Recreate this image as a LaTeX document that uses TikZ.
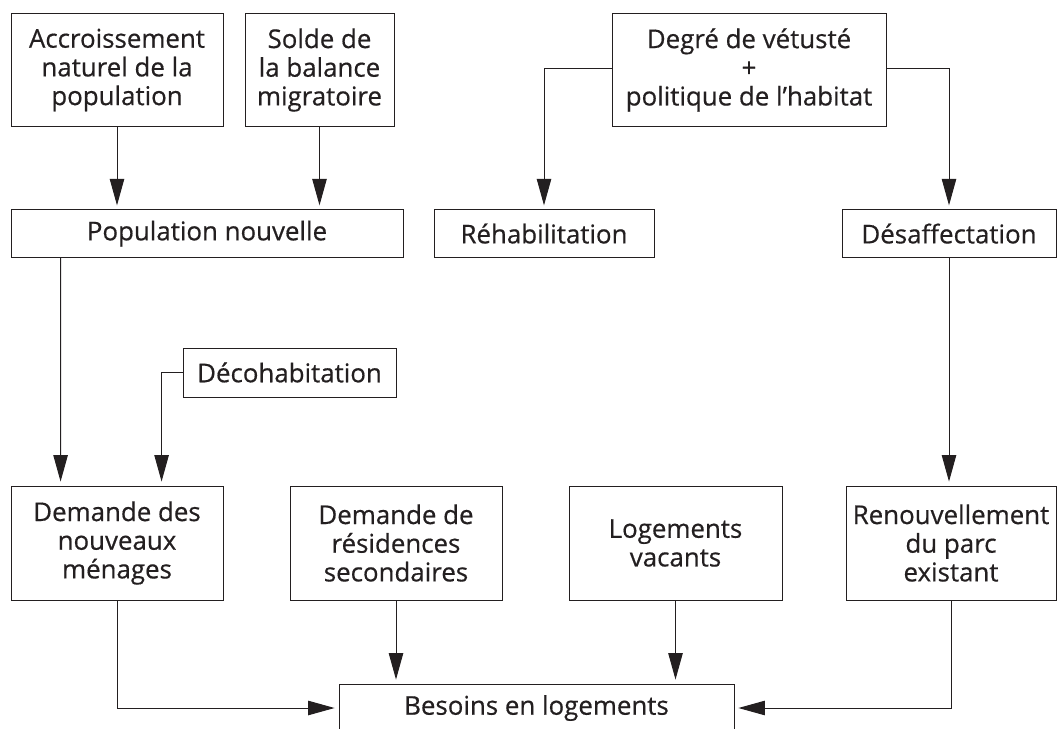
\documentclass[tikz,border=0pt]{standalone}
\usepackage{fontspec}
\setmainfont{Open Sans}
\newfontfamily\boxfont{Open Sans}[FakeBold=0.5]
\usetikzlibrary{arrows.meta}
\definecolor{ink}{RGB}{35,31,32}

\begin{document}
\begin{tikzpicture}
        \tikzstyle{box}=[draw=ink, line width=0.6pt, text=ink, align=center, inner sep=0pt, font=\boxfont\fontsize{18.4}{20.4}\selectfont]
        \tikzstyle{arr}=[draw=ink, line width=0.7pt, -{Triangle[length=6.6mm,width=3.6mm]}, shorten >=1mm]

        \useasboundingbox (0,0) rectangle (26.475,-18.225);

        \node[box, minimum width=5.3cm, minimum height=2.825cm]   (acc)    at (2.925,-1.75)  {Accroissement\\naturel de la\\population};
        \node[box, minimum width=3.725cm, minimum height=2.825cm] (solde)  at (7.9875,-1.75) {Solde de\\la balance\\migratoire};
        \node[box, minimum width=6.85cm, minimum height=2.825cm]  (degre)  at (18.725,-1.75) {Degré de vétusté\\+\\politique de l’habitat};

        \node[box, minimum width=9.8cm, minimum height=1.19cm]   (popnouv) at (5.175,-5.84)  {Population nouvelle};
        \node[box, minimum width=5.5cm, minimum height=1.19cm]   (rehab)   at (13.6,-5.84)   {Réhabilitation};
        \node[box, minimum width=5.35cm, minimum height=1.19cm]  (desaff)  at (23.725,-5.84)  {Désaffectation};

        \node[box, minimum width=5.325cm, minimum height=1.225cm] (decohab) at (7.2375,-9.3125) {Décohabitation};

        \node[box, minimum width=5.3cm, minimum height=2.85cm]   (menages) at (2.925,-13.575)   {Demande des\\nouveaux\\ménages};
        \node[box, minimum width=5.3cm, minimum height=2.85cm]   (resid)   at (9.9,-13.575)     {Demande de\\résidences\\secondaires};
        \node[box, minimum width=5.325cm, minimum height=2.85cm] (vacants) at (16.8875,-13.575) {Logements\\vacants};
        \node[box, minimum width=5.25cm, minimum height=2.85cm]  (renouv)  at (23.775,-13.575)  {Renouvellement\\du parc\\existant};

        \node[box, minimum width=9.875cm, minimum height=1.2cm]  (besoins) at (13.4125,-17.7) {Besoins en logements};

        \draw[arr] (acc) -- (acc |- popnouv.north);
        \draw[arr] (solde) -- (solde |- popnouv.north);
        \draw[arr] ([yshift=0.04cm]degre.west) -| (rehab.north);
        \draw[arr] ([yshift=0.04cm]degre.east) -| (desaff.north);

        \draw[arr] ([xshift=1.25cm]popnouv.south west) -- ([xshift=1.25cm]menages.north west);
        \draw[arr] (decohab.west) -| ([xshift=3.775cm]menages.north west);
        \draw[arr] (desaff) -- (desaff |- renouv.north);

        \draw[arr] (menages.south) |- (besoins.west);
        \draw[arr] (resid) -- (resid |- besoins.north);
        \draw[arr] (vacants) -- (vacants |- besoins.north);
        \draw[arr] (renouv.south) |- (besoins.east);
    \end{tikzpicture}
\end{document}
